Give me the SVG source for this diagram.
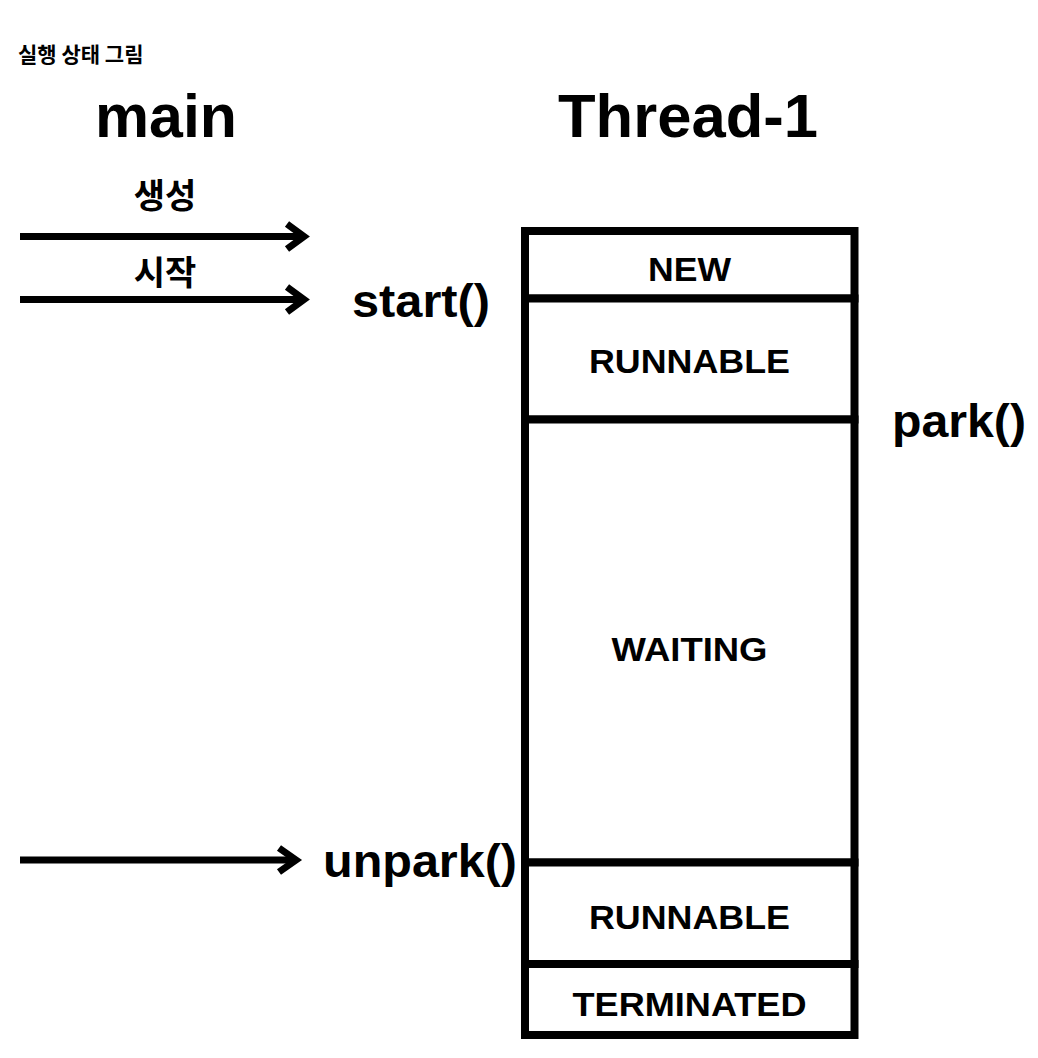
<svg xmlns="http://www.w3.org/2000/svg" width="1038" height="1058" viewBox="0 0 1038 1058">
<defs>
<style>
text{font-family:"Liberation Sans","Noto Sans CJK KR",Arial,sans-serif;font-weight:bold;fill:#000}
.state{font-size:34px;text-anchor:middle}
.big{font-size:61px}
.call{font-size:46px}
.kr{font-size:34px;text-anchor:middle;font-family:"Noto Sans CJK KR",sans-serif}
.box{fill:#fff;stroke:#000;stroke-width:8}
.conn{stroke:#000;stroke-width:7;fill:none}
.head{stroke:#000;stroke-width:7;fill:none;stroke-linecap:butt;stroke-linejoin:miter}
</style>
</defs>
<rect width="1038" height="1058" fill="#fff"/>
<text x="18" y="62" style="font-size:21px;font-family:'Noto Sans CJK KR',sans-serif">실행 상태 그림</text>
<g id="main-label"><text class="big" x="95" y="137" textLength="142" lengthAdjust="spacingAndGlyphs">main</text></g>
<g id="thread1-label"><text class="big" x="558" y="137" textLength="260" lengthAdjust="spacingAndGlyphs">Thread-1</text></g>

<g id="thread1">
<g id="state-new"><rect class="box" x="525" y="231" width="329.5" height="67.5"/><text class="state" x="689.5" y="281" textLength="83" lengthAdjust="spacingAndGlyphs">NEW</text></g>
<g id="state-runnable1"><rect class="box" x="525" y="298.5" width="329.5" height="121"/><text class="state" x="689.5" y="373" textLength="201" lengthAdjust="spacingAndGlyphs">RUNNABLE</text></g>
<g id="state-waiting"><rect class="box" x="525" y="419.5" width="329.5" height="443"/><text class="state" x="689.5" y="661" textLength="156" lengthAdjust="spacingAndGlyphs">WAITING</text></g>
<g id="state-runnable2"><rect class="box" x="525" y="862.5" width="329.5" height="101.5"/><text class="state" x="689.5" y="929" textLength="201" lengthAdjust="spacingAndGlyphs">RUNNABLE</text></g>
<g id="state-terminated"><rect class="box" x="525" y="964" width="329.5" height="71"/><text class="state" x="689.5" y="1016" textLength="234" lengthAdjust="spacingAndGlyphs">TERMINATED</text></g>
</g>

<g id="connectors">
<line class="conn" x1="20" y1="236.5" x2="300" y2="236.5"/>
<polyline class="head" points="287,224 304,236.5 287,249"/>
<line class="conn" x1="20" y1="299.5" x2="300" y2="299.5"/>
<polyline class="head" points="287,287 304,299.5 287,312"/>
<line class="conn" x1="20" y1="860" x2="292" y2="860"/>
<polyline class="head" points="279,848 296,860 279,872"/>
</g>

<g id="labels">
<text class="kr" x="165" y="208">생성</text>
<text class="kr" x="165" y="285">시작</text>
<text class="call" x="352" y="317" textLength="138" lengthAdjust="spacingAndGlyphs">start()</text>
<text class="call" x="892" y="437" textLength="134" lengthAdjust="spacingAndGlyphs">park()</text>
<text class="call" x="323" y="877" textLength="194" lengthAdjust="spacingAndGlyphs">unpark()</text>
</g>
</svg>
